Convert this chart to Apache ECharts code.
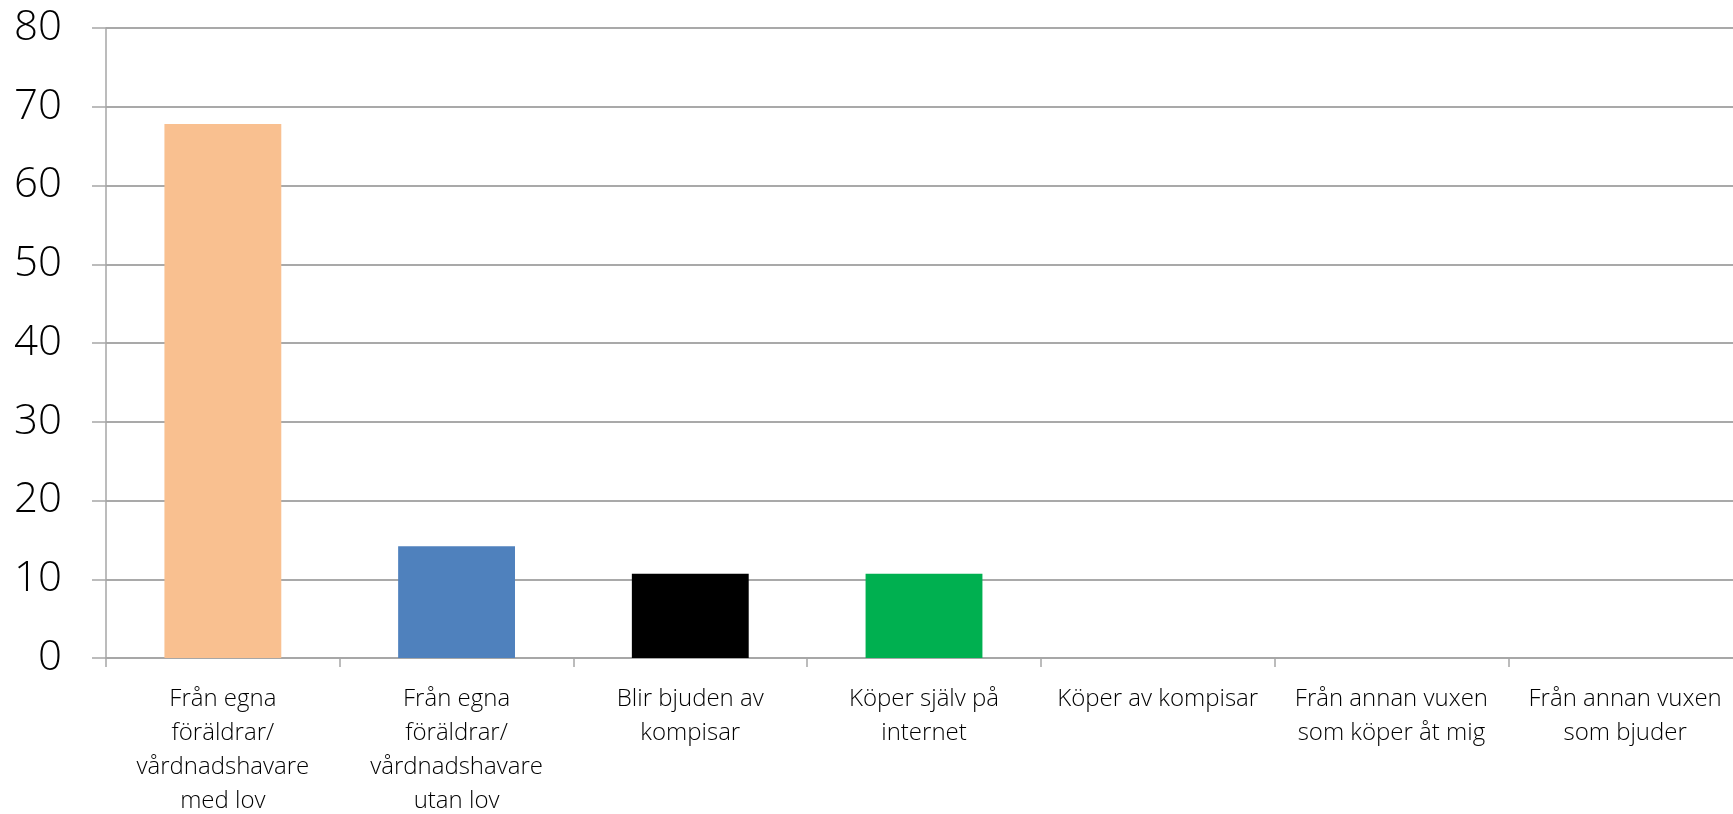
<!DOCTYPE html>
<html>
<head>
<meta charset="utf-8">
<script src="https://cdn.jsdelivr.net/npm/echarts@6/dist/echarts.min.js"></script>
<style>
    html, body { margin: 0; padding: 0; background: #fff; }
    #chart { width: 1733px; height: 814px; }
</style>
</head>
<body>
<div id="chart"></div>
<script>
// kategorier (radbrytningar som i originalet)
const categories = [
    'Från egna\nföräldrar/\nvårdnadshavare\nmed lov',
    'Från egna\nföräldrar/\nvårdnadshavare\nutan lov',
    'Blir bjuden av\nkompisar',
    'Köper själv på\ninternet',
    'Köper av kompisar',
    'Från annan vuxen\nsom köper åt mig',
    'Från annan vuxen\nsom bjuder'
]
const values = [67.8, 14.2, 10.7, 10.7, 0, 0, 0]
const barColors = ['#F9C090', '#4F81BD', '#000000', '#00B050', '#F9C090', '#F9C090', '#F9C090']
const yTicks = { min: 0, max: 80, interval: 10 }

const chartDom = document.getElementById('chart')
const chart = echarts.init(chartDom)

const font = '"Open Sans", "DejaVu Sans", sans-serif'

chart.setOption({
    animation: false,
    // plottytan går lite utanför högerkanten, som i originalet
    grid: { left: 106, top: 28, width: 1636, bottom: 156, outerBoundsMode: 'none' },
    xAxis: {
        type: 'category',
        data: categories,
        axisLine: { lineStyle: { color: '#a6a6a6', width: 1.5 } },
        axisTick: { show: true, length: 9, lineStyle: { color: '#a6a6a6', width: 1.5 } },
        axisLabel: {
            color: '#000',
            fontFamily: font,
            fontWeight: 300,
            fontSize: 24,
            lineHeight: 34,
            margin: 24,
            interval: 0
        }
    },
    yAxis: {
        type: 'value',
        min: yTicks.min,
        max: yTicks.max,
        interval: yTicks.interval,
        axisLine: { show: true, lineStyle: { color: '#a6a6a6', width: 1.5 } },
        axisTick: { show: true, length: 14, lineStyle: { color: '#a6a6a6', width: 1.5 } },
        splitLine: { lineStyle: { color: '#8c8c8c', width: 1.5 } },
        axisLabel: {
            color: '#000',
            fontFamily: font,
            fontWeight: 300,
            fontSize: 42,
            margin: 44
        }
    },
    series: [{
        type: 'bar',
        data: values.map((v, i) => ({ value: v, itemStyle: { color: barColors[i] } })),
        barWidth: '50%'
    }]
})
</script>
</body>
</html>
